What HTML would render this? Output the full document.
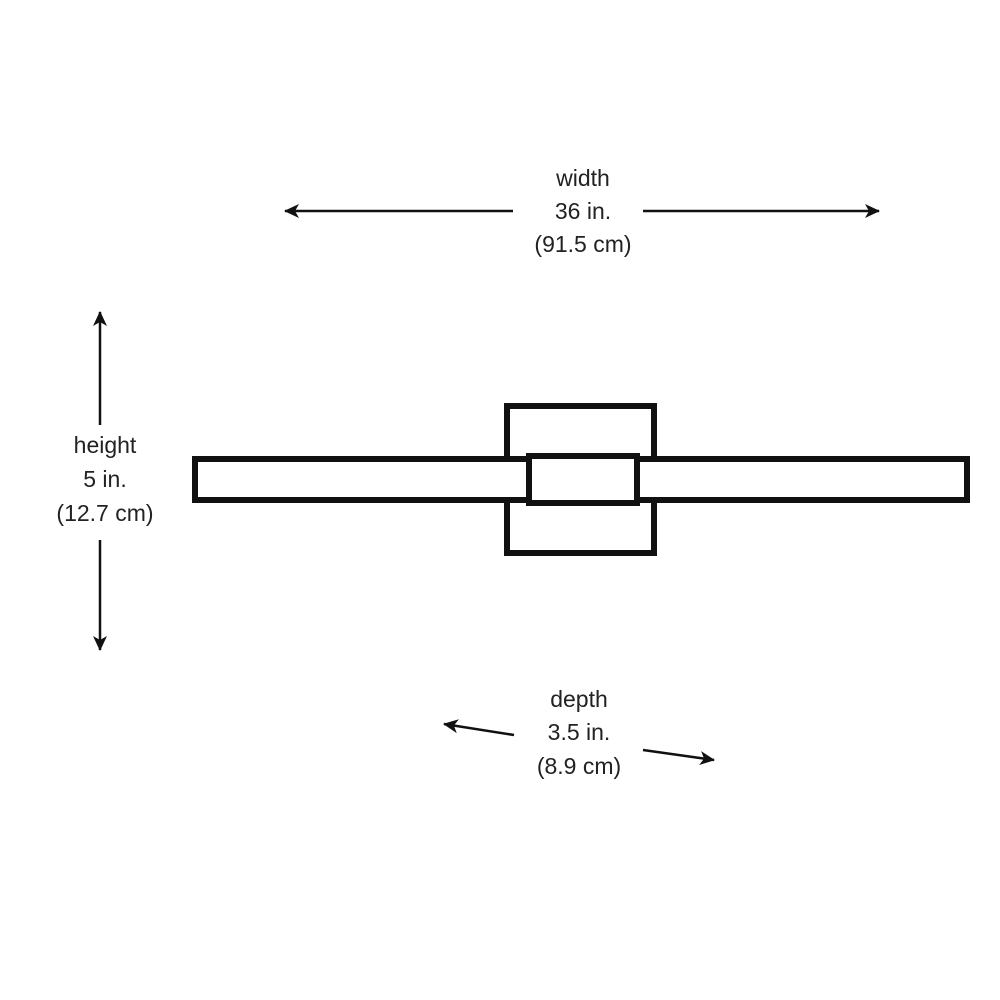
<!DOCTYPE html>
<html><head><style>
html,body{margin:0;padding:0;background:#fff;}
svg{display:block}
text{font-family:"Liberation Sans",sans-serif;font-size:23px;fill:#222;text-anchor:middle}
</style></head><body>
<svg width="1000" height="1000" viewBox="0 0 1000 1000">
<defs><marker id="a" markerWidth="16" markerHeight="16" refX="14" refY="8" orient="auto" markerUnits="userSpaceOnUse"><path d="M0,1 L15,8 L0,15 L4,8 Z" fill="#111"/></marker></defs>
<rect x="507" y="406" width="147" height="147" fill="#fff" stroke="#111" stroke-width="6"/>
<rect x="195" y="459" width="772" height="41" fill="#fff" stroke="#111" stroke-width="6"/>
<rect x="529" y="456" width="108" height="47" fill="#fff" stroke="#111" stroke-width="6"/>
<g stroke="#111" stroke-width="2.5" fill="none">
<line x1="513" y1="211" x2="285" y2="211" marker-end="url(#a)"/>
<line x1="643" y1="211" x2="879" y2="211" marker-end="url(#a)"/>
<line x1="100" y1="425" x2="100" y2="312" marker-end="url(#a)"/>
<line x1="100" y1="540" x2="100" y2="650" marker-end="url(#a)"/>
<line x1="514" y1="735" x2="444" y2="724" marker-end="url(#a)"/>
<line x1="643" y1="750" x2="714" y2="760" marker-end="url(#a)"/>
</g>
<text x="583" y="186">width</text>
<text x="583" y="219">36 in.</text>
<text x="583" y="252">(91.5 cm)</text>
<text x="105" y="453">height</text>
<text x="105" y="487">5 in.</text>
<text x="105" y="521">(12.7 cm)</text>
<text x="579" y="707">depth</text>
<text x="579" y="740">3.5 in.</text>
<text x="579" y="774">(8.9 cm)</text>
</svg>
</body></html>
